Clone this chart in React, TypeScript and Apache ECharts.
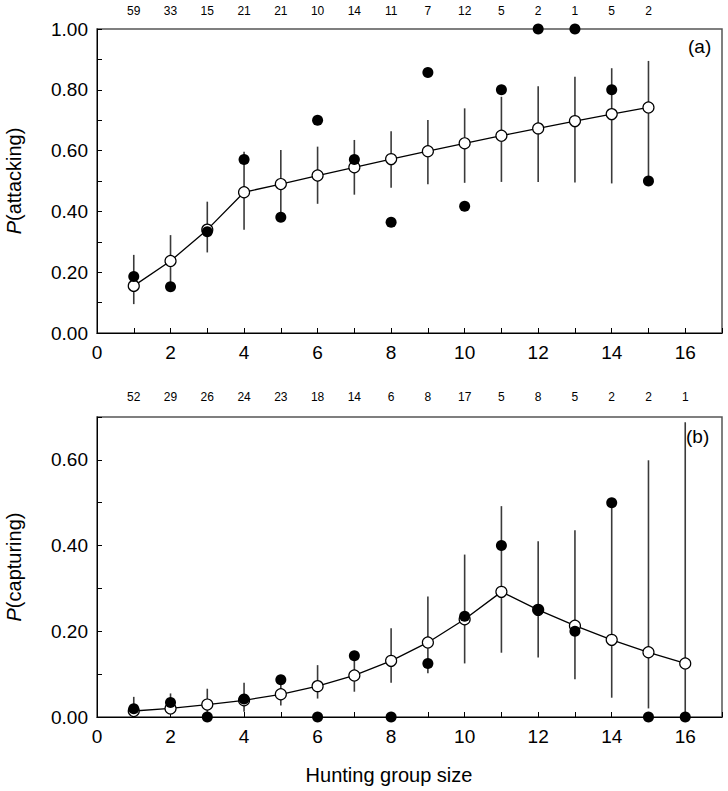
import React, { useEffect, useRef } from "react";
import * as echarts from "echarts";

const attackN = [59, 33, 15, 21, 21, 10, 14, 11, 7, 12, 5, 2, 1, 5, 2];
const attackFit = [0.155, 0.237, 0.34, 0.463, 0.49, 0.518, 0.545, 0.572, 0.598, 0.624, 0.649, 0.673, 0.697, 0.72, 0.742];
const attackObs = [0.186, 0.152, 0.333, 0.571, 0.381, 0.7, 0.571, 0.364, 0.857, 0.417, 0.8, 1.0, 1.0, 0.8, 0.5];
const attackLo = [0.095, 0.16, 0.265, 0.34, 0.388, 0.425, 0.455, 0.478, 0.489, 0.494, 0.497, 0.497, 0.495, 0.492, 0.503];
const attackHi = [0.257, 0.322, 0.432, 0.596, 0.602, 0.613, 0.635, 0.664, 0.701, 0.739, 0.777, 0.812, 0.843, 0.871, 0.895];

const captN = [52, 29, 26, 24, 23, 18, 14, 6, 8, 17, 5, 8, 5, 2, 2, 1];
const captFit = [0.014, 0.02, 0.029, 0.039, 0.053, 0.072, 0.097, 0.131, 0.174, 0.228, 0.292, 0.25, 0.213, 0.18, 0.151, 0.125];
const captObs = [0.019, 0.034, 0, 0.042, 0.087, 0, 0.143, 0, 0.125, 0.235, 0.4, 0.25, 0.2, 0.5, 0, 0];
const captLo = [0.004, 0.006, 0.01, 0.012, 0.027, 0.043, 0.059, 0.08, 0.102, 0.125, 0.15, 0.139, 0.088, 0.045, 0.02, 0.0];
const captHi = [0.047, 0.055, 0.066, 0.08, 0.095, 0.121, 0.152, 0.207, 0.281, 0.379, 0.492, 0.41, 0.436, 0.5, 0.599, 0.688];

const FONT = "Liberation Sans, Arial, sans-serif";

function errRender(params: any, api: any) {
  const x = api.value(0);
  const p1 = api.coord([x, api.value(1)]);
  const p2 = api.coord([x, api.value(2)]);
  return {
    type: "line",
    shape: { x1: p1[0], y1: p1[1], x2: p2[0], y2: p2[1] },
    style: { stroke: "#3a3a3a", lineWidth: 1.6 },
  };
}

function bottomX(gridIndex: number) {
  return {
    type: "value",
    gridIndex,
    min: 0,
    max: 17,
    interval: 1,
    axisLine: { show: true, lineStyle: { color: "#000", width: 1 } },
    axisTick: { show: true, inside: true, length: 5, lineStyle: { color: "#000" } },
    axisLabel: {
      color: "#000",
      fontSize: 19,
      fontFamily: FONT,
      margin: 10,
      formatter: (v: number) => (v % 2 === 0 && v <= 16 ? String(v) : ""),
    },
    splitLine: { show: false },
  };
}

function topX(gridIndex: number, counts: number[], margin: number) {
  return {
    type: "value",
    gridIndex,
    position: "top",
    min: 0,
    max: 17,
    interval: 1,
    axisLine: { show: false },
    axisTick: { show: false },
    axisLabel: {
      color: "#000",
      fontSize: 12,
      fontFamily: FONT,
      margin,
      formatter: (v: number) => (v >= 1 && v <= counts.length ? String(counts[v - 1]) : ""),
    },
    splitLine: { show: false },
  };
}

function leftY(gridIndex: number, max: number, name: string) {
  return {
    type: "value",
    gridIndex,
    min: 0,
    max,
    interval: 0.1,
    name,
    nameLocation: "middle",
    nameRotate: 90,
    nameGap: 73,
    nameTextStyle: {
      color: "#000",
      fontSize: 20,
      fontFamily: FONT,
      rich: { i: { fontStyle: "italic", fontSize: 20, fontFamily: FONT, color: "#000" } },
    },
    axisLine: { show: true, lineStyle: { color: "#000", width: 1 } },
    axisTick: { show: true, inside: true, length: 5, lineStyle: { color: "#000" } },
    axisLabel: {
      color: "#000",
      fontSize: 19,
      fontFamily: FONT,
      margin: 9,
      formatter: (v: number) => {
        const k = Math.round(v * 10);
        return k % 2 === 0 ? v.toFixed(2) : "";
      },
    },
    splitLine: { show: false },
  };
}

export default function App() {
  const ref = useRef<HTMLDivElement>(null);
  useEffect(() => {
    if (!ref.current) return;
    const chart = echarts.init(ref.current, null, { renderer: "svg" });

    const aFit = attackFit.map((v, i) => [i + 1, v]);
    const aObs = attackObs.map((v, i) => [i + 1, v]);
    const aErr = attackLo.map((v, i) => [i + 1, v, attackHi[i]]);
    const cFit = captFit.map((v, i) => [i + 1, v]);
    const cObs = captObs.map((v, i) => [i + 1, v]);
    const cErr = captLo.map((v, i) => [i + 1, v, captHi[i]]);

    const fitStyle = (xi: number, yi: number, data: number[][]) => ({
      type: "line",
      xAxisIndex: xi,
      yAxisIndex: yi,
      data,
      symbol: "circle",
      symbolSize: 11,
      lineStyle: { color: "#000", width: 1.3 },
      itemStyle: { color: "#fff", borderColor: "#000", borderWidth: 1.2, opacity: 1 },
      z: 3,
      clip: false,
    });
    const obsStyle = (xi: number, yi: number, data: number[][]) => ({
      type: "scatter",
      xAxisIndex: xi,
      yAxisIndex: yi,
      data,
      symbol: "circle",
      symbolSize: 11,
      itemStyle: { color: "#000", opacity: 1 },
      z: 4,
      clip: false,
    });

    chart.setOption({
      animation: false,
      backgroundColor: "#fff",
      grid: [
        { left: 97, top: 29, width: 625, height: 304, show: true, borderColor: "#555", borderWidth: 1.5, backgroundColor: "transparent", containLabel: false, outerBoundsMode: "none" },
        { left: 97, top: 417, width: 625, height: 300, show: true, borderColor: "#555", borderWidth: 1.5, backgroundColor: "transparent", containLabel: false, outerBoundsMode: "none" },
      ],
      xAxis: [bottomX(0), topX(0, attackN, 12), bottomX(1), topX(1, captN, 14)],
      yAxis: [leftY(0, 1, "{i|P}(attacking)"), leftY(1, 0.7, "{i|P}(capturing)")],
      series: [
        { type: "custom", xAxisIndex: 0, yAxisIndex: 0, data: aErr, renderItem: errRender, encode: { x: 0, y: [1, 2] }, z: 2, clip: false },
        fitStyle(0, 0, aFit),
        obsStyle(0, 0, aObs),
        { type: "custom", xAxisIndex: 2, yAxisIndex: 1, data: cErr, renderItem: errRender, encode: { x: 0, y: [1, 2] }, z: 2, clip: false },
        fitStyle(2, 1, cFit),
        obsStyle(2, 1, cObs),
      ],
      graphic: [
        { type: "text", left: 688, top: 37, style: { text: "(a)", fontSize: 19, fontFamily: FONT, fill: "#000" } },
        { type: "text", left: 686, top: 427, style: { text: "(b)", fontSize: 19, fontFamily: FONT, fill: "#000" } },
        { type: "text", x: 389, y: 775, style: { text: "Hunting group size", fontSize: 20, fontFamily: FONT, fill: "#000", align: "center", verticalAlign: "middle" } },
      ],
    });
    return () => chart.dispose();
  }, []);
  return <div ref={ref} style={{ position: "absolute", left: 0, top: 0, width: 728, height: 791 }} />;
}
